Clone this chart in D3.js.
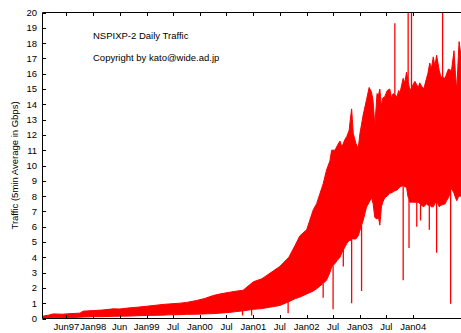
<!DOCTYPE html>
<html>
<head>
<meta charset="utf-8">
<script src="https://cdn.jsdelivr.net/npm/d3@7"></script>
<style>
  body { margin: 0; background: #fff; }
  svg { display: block; font-family: "Liberation Sans", Arial, sans-serif; }
</style>
</head>
<body>
<svg id="chart" width="461" height="333"></svg>
<script>
// envelope of the 5min samples: daily high / daily low (Gbps)
const dates = [
  "1997-01-18","1997-03-01","1997-04-01","1997-06-01","1997-08-01","1997-10-01","1997-10-24",
  "1998-01-01","1998-03-01","1998-05-17","1998-07-01","1998-09-10","1998-11-01",
  "1999-01-01","1999-04-23","1999-06-01","1999-08-17","1999-10-01","1999-12-10",
  "2000-02-01","2000-04-01","2000-05-15","2000-07-24","2000-09-01","2000-10-23",
  "2001-01-01","2001-03-01","2001-05-01","2001-07-01","2001-09-01","2001-10-15","2001-11-15",
  "2002-01-01","2002-02-15","2002-03-10","2002-04-24","2002-05-17","2002-06-09","2002-06-21",
  "2002-07-14","2002-07-30","2002-08-17","2002-08-30","2002-09-20","2002-10-03","2002-10-19","2002-10-27",
  "2002-11-05","2002-11-10","2002-11-16","2002-12-04","2002-12-20",
  "2003-01-01","2003-01-23","2003-02-15","2003-03-05","2003-03-21","2003-04-01","2003-04-13","2003-04-28",
  "2003-05-08","2003-05-17","2003-05-28","2003-06-06","2003-06-20","2003-07-07","2003-07-24","2003-08-06",
  "2003-08-16","2003-09-12","2003-09-23","2003-10-01","2003-10-24","2003-11-04","2003-11-16","2003-11-25",
  "2003-12-09","2003-12-26",
  "2004-01-12","2004-02-04","2004-02-15","2004-02-26","2004-03-13","2004-04-01","2004-04-10","2004-04-23",
  "2004-05-04","2004-05-17","2004-05-28","2004-06-09","2004-06-27","2004-07-08","2004-08-07","2004-08-16",
  "2004-08-29","2004-09-19","2004-10-06","2004-10-16","2004-10-25","2004-11-03","2004-11-10","2004-11-25"
];
const highs = [
  0.15,0.22,0.30,0.28,0.32,0.35,0.48,
  0.52,0.55,0.63,0.62,0.70,0.74,
  0.80,0.92,0.95,1.00,1.05,1.18,
  1.30,1.50,1.60,1.72,1.78,1.85,
  2.4,2.6,3.0,3.4,4.0,4.8,5.4,
  5.8,7.1,7.5,8.8,9.7,10.3,11.0,
  11.0,11.3,11.6,11.2,11.7,11.9,12.3,13.0,
  13.7,13.0,12.1,11.45,11.1,
  12.1,13.3,14.3,15.1,14.8,14.2,12.6,14.7,
  14.6,15.0,13.9,14.4,14.5,14.9,15.0,14.4,
  14.7,14.5,14.9,14.7,15.7,15.4,16.1,15.6,
  14.9,15.2,
  15.5,15.1,15.4,15.2,15.0,15.7,16.0,16.7,
  16.3,17.1,16.5,17.2,16.2,15.8,15.7,16.0,
  16.3,16.2,17.5,16.0,14.9,16.8,18.1,17.0
];
const lows = [
  0.02,0.04,0.05,0.06,0.07,0.08,0.10,
  0.12,0.12,0.14,0.15,0.16,0.18,
  0.20,0.22,0.24,0.25,0.27,0.28,
  0.30,0.32,0.35,0.40,0.45,0.50,
  0.60,0.65,0.75,0.85,1.1,1.3,1.4,
  1.6,1.8,1.94,2.3,2.5,3.0,3.36,
  3.6,3.8,4.0,4.3,4.67,4.9,5.1,5.1,
  5.15,5.2,5.2,5.2,5.4,
  5.76,6.4,7.28,7.6,7.9,7.5,6.6,6.5,
  6.6,6.1,7.3,7.6,7.9,8.0,8.2,8.2,
  8.3,8.4,8.5,8.6,8.7,8.6,8.6,8.0,
  7.6,7.6,
  7.6,7.6,7.5,7.4,7.3,7.5,7.4,7.4,
  7.3,7.3,7.5,7.7,7.3,7.4,7.5,7.7,
  7.9,8.5,8.2,7.9,7.7,7.9,8.0,8.0
];

// single-day outliers
const spikeUpDates = ["2003-08-28","2003-11-27","2003-12-20","2004-07-20"];
const spikeUpValues = [19.3, 21, 21, 21];
const spikeDownDates = ["2000-10-19","2000-12-20","2001-08-27","2002-04-24","2002-07-01","2002-09-09",
  "2002-11-05","2003-01-12","2003-10-24","2003-12-03","2004-01-25","2004-02-20","2004-04-20",
  "2004-06-09","2004-09-13"];
const spikeDownValues = [0.2,0.2,0.35,1.35,0.6,3.4,1.0,1.8,2.5,4.6,6.0,6.4,5.8,4.3,0.96];

const tickDates = ["1997-07-01","1998-01-01","1998-07-01","1999-01-01","1999-07-01","2000-01-01","2000-07-01",
  "2001-01-01","2001-07-01","2002-01-01","2002-07-01","2003-01-01","2003-07-01","2004-01-01"];
const tickLabels = ["Jun97","Jan98","Jun","Jan99","Jul","Jan00","Jul","Jan01","Jul","Jan02","Jul","Jan03","Jul","Jan04"];
const yTicks = d3.range(0, 21);

const parse = d3.timeParse("%Y-%m-%d");
const svg = d3.select("#chart");
const plotL = 42.5, plotT = 12.5, plotB = 318.5, plotR = 466.7;

const x = d3.scaleTime()
  .domain([parse("1997-01-18"), parse("2005-01-01")])
  .range([plotL, plotR]);
const y = d3.scaleLinear().domain([0, 20]).range([plotB, plotT]);

svg.append("rect").attr("width", 461).attr("height", 333).attr("fill", "#fff");

svg.append("clipPath").attr("id", "plot")
  .append("rect").attr("x", plotL).attr("y", plotT).attr("width", plotR - plotL).attr("height", plotB - plotT);

const data = dates.map((d, i) => ({ date: parse(d), hi: highs[i], lo: lows[i] }));
const g = svg.append("g").attr("clip-path", "url(#plot)");

const area = d3.area()
  .x(d => x(d.date))
  .y0(d => y(d.lo))
  .y1(d => y(d.hi));

g.append("path")
  .datum(data)
  .attr("d", area)
  .attr("fill", "#ff0000")
  .attr("stroke", "#ff0000")
  .attr("stroke-width", 1);

// outliers drawn from the envelope out to the value
const hiAt = d3.scaleTime().domain(data.map(d => d.date)).range(highs);
const loAt = d3.scaleTime().domain(data.map(d => d.date)).range(lows);
spikeUpDates.forEach((d, i) => {
  const t = parse(d);
  g.append("line")
    .attr("x1", x(t)).attr("x2", x(t))
    .attr("y1", y(hiAt(t))).attr("y2", y(spikeUpValues[i]))
    .attr("stroke", "#ff0000").attr("stroke-width", 1.3);
});
spikeDownDates.forEach((d, i) => {
  const t = parse(d);
  g.append("line")
    .attr("x1", x(t)).attr("x2", x(t))
    .attr("y1", y(loAt(t))).attr("y2", y(spikeDownValues[i]))
    .attr("stroke", "#ff0000").attr("stroke-width", 1.3);
});

// frame
const frame = svg.append("g").attr("stroke", "#000").attr("fill", "none");
frame.append("path").attr("d", `M${plotR},${plotT}H${plotL}V${plotB}H${plotR}`).attr("stroke-width", 1);

// y axis: ticks inside, labels on the left
yTicks.forEach(v => {
  frame.append("line").attr("x1", plotL).attr("x2", plotL + 3.5)
    .attr("y1", Math.round(y(v)) + 0.5).attr("y2", Math.round(y(v)) + 0.5);
});
svg.append("g").selectAll("text").data(yTicks).join("text")
  .attr("x", 37).attr("y", v => y(v)).attr("dy", "0.36em")
  .attr("text-anchor", "end").attr("font-size", 9.5).attr("fill", "#000")
  .text(v => v);

// x axis: ticks inside at top and bottom
tickDates.forEach(d => {
  const px = Math.round(x(parse(d))) + 0.5;
  frame.append("line").attr("x1", px).attr("x2", px).attr("y1", plotB).attr("y2", plotB - 3.5);
  frame.append("line").attr("x1", px).attr("x2", px).attr("y1", plotT).attr("y2", plotT + 3.5);
});
svg.append("g").selectAll("text").data(tickDates).join("text")
  .attr("x", d => x(parse(d))).attr("y", 330)
  .attr("text-anchor", "middle").attr("font-size", 9.5).attr("fill", "#000")
  .text((d, i) => tickLabels[i]);

svg.append("text")
  .attr("transform", `translate(18,${(plotT + plotB) / 2}) rotate(-90)`)
  .attr("text-anchor", "middle").attr("font-size", 9.5).attr("fill", "#000")
  .text("Traffic (5min Average in Gbps)");

svg.append("text").attr("x", 93).attr("y", 38.5).attr("font-size", 9.5).text("NSPIXP-2 Daily Traffic");
svg.append("text").attr("x", 93).attr("y", 60.5).attr("font-size", 9.5).text("Copyright by kato@wide.ad.jp");
</script>
</body>
</html>
